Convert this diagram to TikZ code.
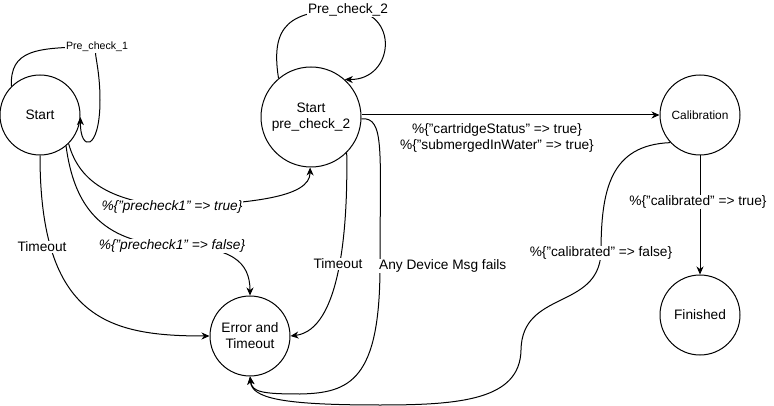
\documentclass[tikz,border=0pt]{standalone}
\usepackage{fontspec}
\setmainfont{Liberation Sans}
\usetikzlibrary{arrows.meta}
\begin{document}
\begin{tikzpicture}[x=1pt,y=-1pt,
  state/.style={draw, circle, line width=1pt, inner sep=0pt, align=center, font=\fontsize{13.7}{16}\selectfont},
  conn/.style={line width=1pt, -{Stealth[length=8pt,width=7pt,inset=2.5pt]}},
  lbl/.style={fill=white, inner sep=1pt, font=\fontsize{13.7}{16}\selectfont, align=center},
  lblit/.style={lbl, font=\fontsize{13.7}{16}\selectfont\itshape},
  lblsmall/.style={lbl, font=\fontsize{10.6}{12}\selectfont},
]
\useasboundingbox (0,0) rectangle (774,406);
% states
\node[state, minimum size=80pt] (start) at (40,115) {Start};
\node[state, minimum size=100pt] (pre2) at (311,117) {Start\\pre\_check\_2};
\node[state, minimum size=80pt, font=\fontsize{11.9}{14}\selectfont] (cal) at (700,115) {Calibration};
\node[state, minimum size=80pt] (fin) at (700,315) {Finished};
\node[state, minimum size=80pt] (err) at (250,336) {Error and\\Timeout};
% label anchors
\coordinate (l1) at (97,47);
\coordinate (l2) at (348,10);
\coordinate (lt) at (172,207);
\coordinate (lf) at (172,246);
\coordinate (lto1) at (42,247);
\coordinate (lto2) at (338,264);
\coordinate (lany) at (380,266);
\coordinate (lcf) at (601,253);
\coordinate (lct) at (698,202);
% Start self loop
\draw[conn] (start.135) .. controls (10,50) and (35,47) .. (l1)
  .. controls (92,49) and (100,65) .. (100,100)
  .. controls (100,152) and (80,152) .. (start.-3);
\node[lblsmall] at (l1) {Pre\_check\_1};
% Start -> pre2
\draw[conn] (start.-45) .. controls (80,185) and (115,201) .. (lt)
  .. controls (250,203) and (310,198) .. (pre2.-91);
\node[lblit] at (lt) {\%\{"precheck1" => true\}};
% Start -> err false
\draw[conn] (start.-50) .. controls (74,205) and (100,242) .. (lf)
  .. controls (232,246) and (250,262) .. (err.north);
\node[lblit] at (lf) {\%\{"precheck1" => false\}};
% Start -> err timeout
\draw[conn] (start.south) .. controls (40,320) and (110,336) .. (err.west);
\node[lbl] at (lto1) {Timeout};
% pre2 self loop
\draw[conn] (pre2.130) .. controls (270,25) and (290,10) .. (l2)
  .. controls (400,10) and (395,80) .. (pre2.48);
\node[lbl] at (l2) {Pre\_check\_2};
% pre2 -> cal
\draw[conn] (pre2.east |- cal.west) -- (cal.west);
\node[lbl, fill=none] at (497,138) {\%\{"cartridgeStatus" => true\}\\\%\{"submergedInWater" => true\}};
% pre2 -> err timeout
\draw[conn] (pre2.-45) .. controls (348,230) and (340,330) .. (err.east);
\node[lbl] at (lto2) {Timeout};
% pre2 -> err any device
\draw[conn] (pre2.-2) .. controls (385,117) and (380,150) .. (lany)
  .. controls (380,380) and (350,393) .. (300,394)
  .. controls (262,394) and (252,392) .. (err.south);
\node[lbl, anchor=west, inner sep=1pt] at ([xshift=-2pt]lany) {Any Device Msg fails};
% cal -> err false
\draw[conn] (cal.-137) .. controls (610,145) and (601,190) .. (lcf)
  .. controls (598,310) and (522,290) .. (521,350)
  .. controls (520,400) and (460,405) .. (380,405)
  .. controls (280,405) and (252,398) .. (err.south);
\node[lbl] at (lcf) {\%\{"calibrated" => false\}};
% cal -> fin
\draw[conn] (cal.south) -- (fin.north);
\node[lbl] at (lct) {\%\{"calibrated" => true\}};
\end{tikzpicture}
\end{document}
